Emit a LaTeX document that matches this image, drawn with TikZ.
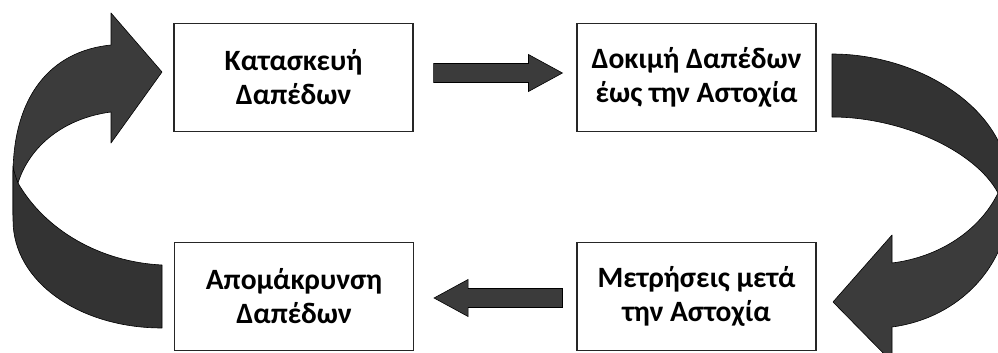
\documentclass[tikz,border=0pt]{standalone}
\usepackage{fontspec}
\setmainfont{Carlito}
\usetikzlibrary{calc}
\definecolor{bandgray}{HTML}{333333}
\definecolor{arrowgray}{HTML}{3B3B3B}
\begin{document}
\begin{tikzpicture}[x=1pt,y=-1pt,
  box/.style={draw=black!85, line width=1.1pt, fill=white, minimum width=239pt,
    minimum height=108pt, inner sep=0pt, align=center,
    font=\bfseries\fontsize{29.5}{34}\selectfont},
  band/.style={fill=bandgray, draw=black, line width=0.6pt, line join=round},
  curvehead/.style={fill=arrowgray, draw=black, line width=0.6pt, line join=round},
  blockarrow/.style={fill=arrowgray, draw=black, line width=0.6pt, line join=miter}]
\useasboundingbox (0,0) rectangle (998,353);
\clip (0,0) rectangle (998,353);
\fill[white] (0,0) rectangle (998,353);

% boxes
\node[box] (b1) at (293.5,77.5) {Κατασκευή\\Δαπέδων};
\node[box] (b2) at (696.5,77.5) {Δοκιμή Δαπέδων\\έως την Αστοχία};
\node[box] (b3) at (294,296.5) {Απομάκρυνση\\Δαπέδων};
\node[box] (b4) at (696.5,296.5) {Μετρήσεις μετά\\την Αστοχία};

% straight block arrows
\coordinate (t1) at ($(b1.east)+(20,-4.5)$);
\coordinate (t2) at ($(b2.west)+(-14,-4.5)$);
\filldraw[blockarrow] ($(t1)+(0,-9.5)$) -- ($(t2)+(-34,-9.5)$) -- ($(t2)+(-34,-18.5)$)
  -- (t2) -- ($(t2)+(-34,18.5)$) -- ($(t2)+(-34,9.5)$) -- ($(t1)+(0,9.5)$) -- cycle;
\coordinate (s1) at ($(b4.west)+(-14,1.5)$);
\coordinate (s2) at ($(b3.east)+(20,1.5)$);
\filldraw[blockarrow] ($(s1)+(0,-9.5)$) -- ($(s2)+(34,-9.5)$) -- ($(s2)+(34,-18.5)$)
  -- (s2) -- ($(s2)+(34,18.5)$) -- ($(s2)+(34,9.5)$) -- ($(s1)+(0,9.5)$) -- cycle;

% left curved arrow: upper part with head
\filldraw[curvehead] (13,215) -- (13,175) .. controls (13,97) and (50,51) .. (111,45)
  -- (111,13) -- (162,72) -- (111,143) -- (111,112)
  .. controls (65,118) and (30,145) .. (18,183) -- cycle;
% left curved arrow: lower band (in front)
\filldraw[band] (162,328) .. controls (80,328) and (13,282) .. (13,220)
  -- (13,166) .. controls (14,172) and (16,178) .. (18,183)
  .. controls (45,230) and (100,262) .. (162,265) -- cycle;

% right curved arrow: lower part with head
\filldraw[curvehead] (998,193) -- (1012,190) -- (1010,200)
  .. controls (1009,265) and (960,318) .. (892,327)
  -- (892,362) -- (833,302) -- (892,235) -- (892,263)
  .. controls (940,257) and (980,230) .. (998,193) -- cycle;
% right curved arrow: upper band
\filldraw[band] (832,54) .. controls (920,54) and (1009,110) .. (1009,185)
  -- (1009,220) .. controls (1005,210) and (1001,200) .. (998,193)
  .. controls (975,150) and (900,117) .. (832,117) -- cycle;
\end{tikzpicture}
\end{document}
